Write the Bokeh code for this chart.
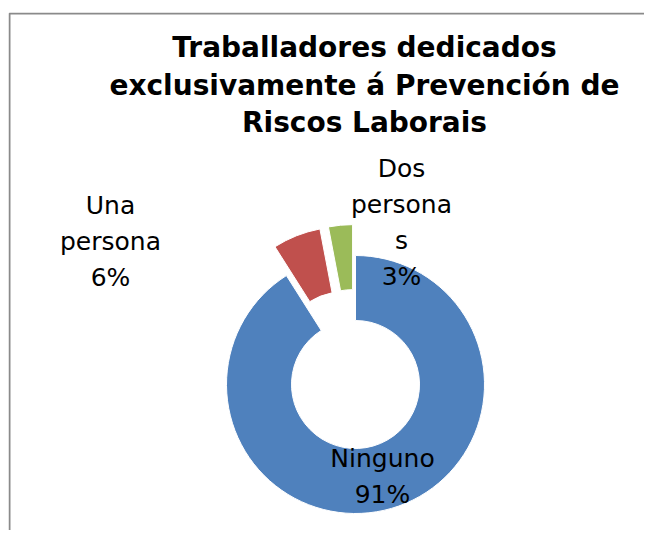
import math
from bokeh.plotting import figure
from bokeh.models import Range1d, Label, ColumnDataSource, BoxAnnotation
from bokeh.core.properties import value
from bokeh.embed import file_html
from bokeh.resources import INLINE

# ---- data ----
categories = ["Ninguno", "Una persona", "Dos personas"]
values = [91, 6, 3]
label_texts = ["Ninguno\n91%", "Una\npersona\n6%", "Dos\npersona\ns\n3%"]
title_lines = ["Traballadores dedicados",
               "exclusivamente á Prevención de",
               "Riscos Laborais"]

# ---- style ----
colors = ["#4F81BD", "#C0504D", "#9BBB59"]
explode = [0, 31, 31]
outer_r = 129
inner_r = 64
label_pos = [(27, -92), (-245, 143), (46, 162)]
title_x = 9
title_baselines = [337, 299.5, 262]
FONT = "DejaVu Sans"

total = float(sum(values))
starts, ends, xs, ys = [], [], [], []
cum = 0.0
for v, d in zip(values, explode):
    a0 = cum / total * 2 * math.pi
    cum += v
    a1 = cum / total * 2 * math.pi
    mid = (a0 + a1) / 2
    starts.append(math.pi / 2 - a0)
    ends.append(math.pi / 2 - a1)
    xs.append(d * math.sin(mid))
    ys.append(d * math.cos(mid))

src = ColumnDataSource(dict(x=xs, y=ys, start=starts, end=ends, color=colors, cat=categories))

p = figure(width=644, height=530, output_backend="svg", toolbar_location=None,
           x_range=Range1d(-347, 289), y_range=Range1d(-146, 372),
           x_axis_location=None, y_axis_location=None,
           min_border_left=8, min_border_right=0, min_border_top=12, min_border_bottom=0)
p.grid.visible = False
p.outline_line_color = None
p.background_fill_color = "white"
p.border_fill_color = "white"

# chart-area frame (only left/top edges visible, as in the cropped original)
p.add_layout(BoxAnnotation(left=-346, top=371, right=400, bottom=-300,
                           fill_color=None, fill_alpha=0,
                           line_color="#8a8a8a", line_alpha=1.0, line_width=2))

p.annular_wedge(x="x", y="y", inner_radius=inner_r, outer_radius=outer_r,
                start_angle="start", end_angle="end", direction="clock",
                fill_color="color", line_color="white", line_width=1, source=src)

lsrc = ColumnDataSource(dict(x=[q[0] for q in label_pos], y=[q[1] for q in label_pos], text=label_texts))
p.text(x="x", y="y", text="text", source=lsrc, text_font=value(FONT), text_font_size="25px",
       text_align="center", text_baseline="middle", text_line_height=1.24, text_color="black")

for line, yb in zip(title_lines, title_baselines):
    p.add_layout(Label(x=title_x, y=yb, text=line, text_font=FONT, text_font_size="28px",
                       text_font_style="bold", text_align="center", text_baseline="alphabetic",
                       text_color="black"))

open("out.html", "w").write(file_html(p, INLINE))
